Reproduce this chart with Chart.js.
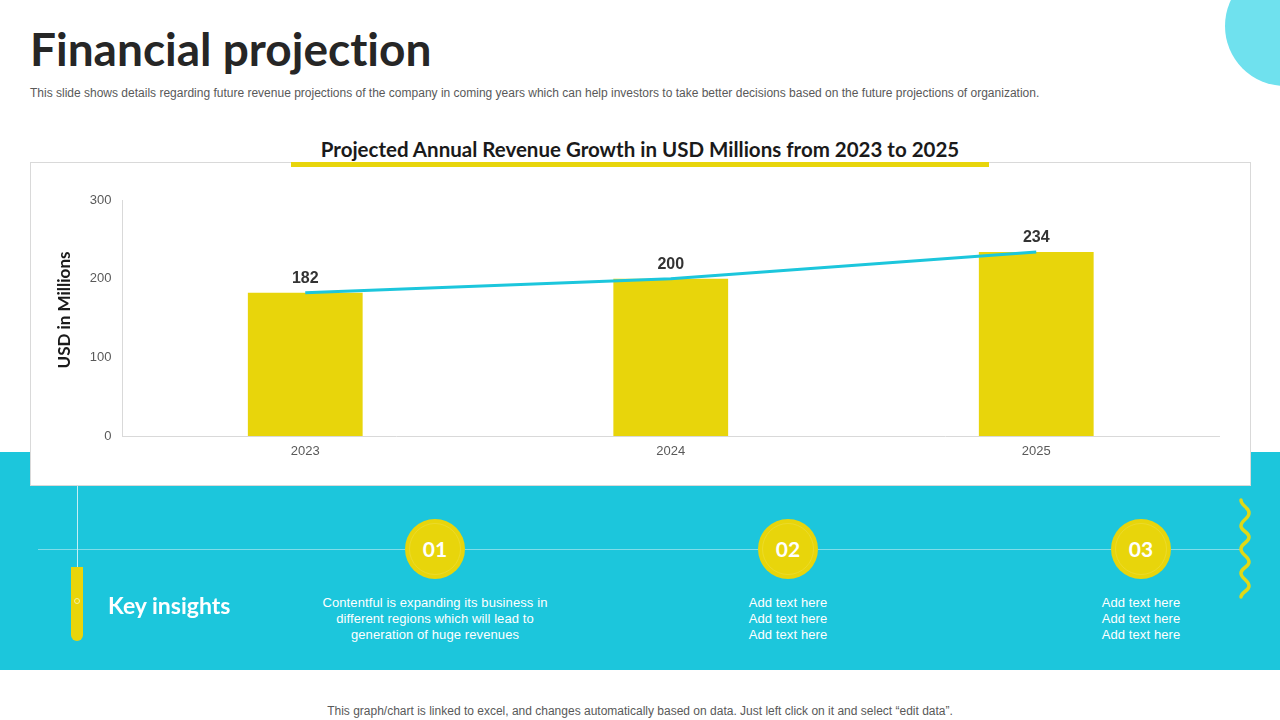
<!DOCTYPE html>
<html>
<head>
<meta charset="utf-8">
<script src="https://cdn.jsdelivr.net/npm/chart.js@4"></script>
<style>
  html, body { margin: 0; padding: 0; background: #fff; }
  body { width: 1280px; height: 720px; position: relative; overflow: hidden; font-family: "Liberation Sans", sans-serif; }
  .abs { position: absolute; }
  .hand { font-family: Lato, sans-serif; font-weight: 700; font-variant-ligatures: none; }
  #title { left: 30px; top: 19px; font-size: 46px; line-height: 60px; color: #262626; white-space: nowrap; }
  #sub { left: 30px; top: 85px; font-size: 12px; line-height: 16px; color: #595959; white-space: nowrap; }
  #blob { left: 1225px; top: -34px; width: 120px; height: 120px; border-radius: 50%; background: #6fe1ee; }
  #band { left: 0; top: 452px; width: 1280px; height: 218px; background: #1cc6dc; }
  #card { left: 30px; top: 162px; width: 1219px; height: 322px; background: #fff; border: 1px solid #d9d9d9; }
  #chartBox { left: 30px; top: 162px; width: 1221px; height: 324px; }
  #chartTitle { left: 291px; width: 698px; top: 136px; text-align: center; font-size: 20.5px; line-height: 26px; color: #1a1a1a; white-space: nowrap; }
  #titleBar { left: 291px; top: 162px; width: 698px; height: 5px; background: #e8d50b; }
  #yTitle { left: 4px; top: 301px; width: 120px; text-align: center; font-size: 17px; line-height: 18px; color: #1a1a1a; transform: rotate(-90deg); white-space: nowrap; }
  #hLine { left: 38px; top: 549px; width: 1202px; height: 1px; background: #7fdde9; }
  #vLine { left: 77px; top: 486px; width: 1px; height: 115px; background: #c5eff5; }
  #pill { left: 71px; top: 567px; width: 12px; height: 74px; background: #e8d50b; border-radius: 0 0 6px 6px; }
  #pin { left: 74px; top: 598px; width: 4px; height: 4px; border: 1px solid #f5f0a0; border-radius: 50%; }
  #key { left: 108px; top: 590px; font-size: 23px; line-height: 30px; color: #fff; white-space: nowrap; }
  .dot { width: 60px; height: 60px; top: 519px; border-radius: 50%; background: #e8d50b; }
  .ring { position: absolute; left: 4px; top: 4px; width: 50px; height: 50px; border: 1px solid #ecdb2a; border-radius: 50%; }
  .num { position: absolute; left: 0; top: 0; width: 60px; text-align: center; line-height: 60px; font-size: 21px; color: #fff; }
  .note { top: 595px; width: 260px; text-align: center; font-size: 13px; line-height: 16px; color: #fff; letter-spacing: 0.1px; }
  #foot { left: 0; width: 1280px; top: 703px; text-align: center; font-size: 12px; line-height: 16px; color: #595959; }
</style>
</head>
<body>
<div class="abs hand" id="title">Financial projection</div>
<div class="abs" id="sub">This slide shows details regarding future revenue projections of the company in coming years which can help investors to take better decisions based on the future projections of organization.</div>
<div class="abs" id="blob"></div>
<div class="abs" id="band"></div>
<div class="abs" id="card"></div>
<div class="abs" id="chartBox"><canvas id="chart"></canvas></div>
<div class="abs hand" id="chartTitle">Projected Annual Revenue Growth in USD Millions from 2023 to 2025</div>
<div class="abs" id="titleBar"></div>
<div class="abs hand" id="yTitle">USD in Millions</div>
<div class="abs" id="hLine"></div>
<div class="abs" id="vLine"></div>
<div class="abs" id="pill"></div>
<div class="abs" id="pin"></div>
<div class="abs hand" id="key">Key insights</div>

<div class="abs dot" style="left:405px"><div class="ring"></div><div class="num hand">01</div></div>
<div class="abs dot" style="left:758px"><div class="ring"></div><div class="num hand">02</div></div>
<div class="abs dot" style="left:1111px"><div class="ring"></div><div class="num hand">03</div></div>
<div class="abs note" style="left:305px">Contentful is expanding its business in<br>different regions which will lead to<br>generation of huge revenues</div>
<div class="abs note" style="left:658px">Add text here<br>Add text here<br>Add text here</div>
<div class="abs note" style="left:1011px">Add text here<br>Add text here<br>Add text here</div>

<svg class="abs" style="left:1235px;top:495px" width="20" height="108">
  <path d="M6 5 C6 11 14 12 14 18 C14 24 6 25 6 31 C6 36 14 37 14 42 C14 48 6 48 6 54 C6 60 14 61 14 67 C14 72 6 73 6 78 C6 84 14 85 14 91 C14 96 6 97 6 102" fill="none" stroke="#e0d916" stroke-width="3.5" stroke-linecap="round"/>
</svg>
<div class="abs" id="foot">This graph/chart is linked to excel, and changes automatically based on data. Just left click on it and select “edit data”.</div>

<script>
const years = ['2023', '2024', '2025'];
const revenue = [182, 200, 234];
const trend = [182, 200, 234];

const yellow = '#e8d50b';
const cyan = '#1cc6dc';

// value labels above the bars
const barLabels = {
  id: 'barLabels',
  afterDatasetsDraw(chart) {
    const ctx = chart.ctx;
    const bars = chart.getDatasetMeta(1).data;
    ctx.save();
    ctx.font = 'bold 16px "Liberation Sans"';
    ctx.fillStyle = '#333333';
    ctx.textAlign = 'center';
    ctx.textBaseline = 'middle';
    bars.forEach((bar, i) => {
      ctx.fillText(revenue[i], bar.x, bar.y - 14);
    });
    ctx.restore();
  }
};

new Chart(document.getElementById('chart'), {
  data: {
    labels: years,
    datasets: [
      {
        type: 'line',
        label: 'Trend',
        data: trend,
        borderColor: cyan,
        borderWidth: 3,
        pointRadius: 0,
        tension: 0,
        order: 1
      },
      {
        type: 'bar',
        label: 'Revenue',
        data: revenue,
        backgroundColor: yellow,
        barPercentage: 1,
        categoryPercentage: 0.314,
        order: 2
      }
    ]
  },
  options: {
    responsive: true,
    maintainAspectRatio: false,
    animation: false,
    layout: { padding: { top: 38, right: 32, bottom: 0, left: 0 } },
    plugins: { legend: { display: false }, title: { display: false }, tooltip: { enabled: false } },
    scales: {
      x: {
        grid: { display: false, drawTicks: false },
        border: { color: '#d9d9d9' },
        ticks: { color: '#595959', font: { family: 'Liberation Sans', size: 13 }, padding: 8, maxRotation: 0 },
        afterFit(scale) { scale.height = 50; }
      },
      y: {
        min: 0,
        max: 300,
        grid: { display: false, drawTicks: false },
        border: { color: '#d9d9d9' },
        ticks: { stepSize: 100, color: '#595959', font: { family: 'Liberation Sans', size: 13 }, padding: 11 },
        afterFit(scale) { scale.width = 92.5; }
      }
    }
  },
  plugins: [barLabels]
});
</script>
</body>
</html>
